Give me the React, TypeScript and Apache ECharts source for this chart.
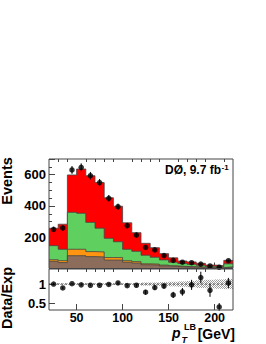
import React, { useEffect, useRef } from "react";
import * as echarts from "echarts";

const binEdges = [20, 30, 40, 50, 60, 70, 80, 90, 100, 110, 120, 130, 140, 150, 160, 170, 180, 190, 200, 210, 220];
const binCenters = [25, 35, 45, 55, 65, 75, 85, 95, 105, 115, 125, 135, 145, 155, 165, 175, 185, 195, 205, 215];

// stacked expectation components (events per bin)
const brownBkg = [46, 38, 82, 82, 76, 74, 54, 54, 40, 35, 24, 22, 17, 13, 10, 9, 7, 5, 4, 8];
const orangeBkg = [10, 12, 41, 41, 32, 32, 16, 16, 10, 9, 6, 6, 5, 4, 3, 2, 2, 2, 2, 2];
const greenBkg = [90, 73, 236, 230, 187, 152, 123, 101, 73, 66, 55, 44, 33, 23, 19, 16, 12, 7, 6, 20];
const redSig = [111, 160, 239, 283, 298, 291, 259, 227, 169, 119, 76, 61, 40, 28, 16, 15, 12, 8, 6, 22];

const dataVals = [250, 259, 630, 647, 593, 549, 449, 395, 274, 214, 135, 119, 83, 52, 40, 37, 28, 16, 8, 50];
const dataErr = [16, 16, 25, 25, 24, 23, 21, 20, 17, 15, 12, 11, 9, 7, 6, 6, 5, 4, 3, 7];

const ratioVals = [1.0, 0.9, 1.01, 0.98, 0.97, 0.97, 0.99, 1.03, 0.96, 0.97, 0.79, 0.91, 0.95, 0.72, 0.8, 0.98, 1.17, 0.84, 0.41, 1.03];
const ratioErr = [0.03, 0.03, 0.02, 0.02, 0.02, 0.02, 0.03, 0.03, 0.03, 0.04, 0.06, 0.06, 0.07, 0.08, 0.1, 0.13, 0.15, 0.17, 0.1, 0.13];
const systBand = [0.02, 0.02, 0.02, 0.02, 0.02, 0.02, 0.02, 0.02, 0.02, 0.02, 0.04, 0.04, 0.05, 0.06, 0.07, 0.08, 0.1, 0.11, 0.12, 0.13];

const xMajorTicks = [50, 100, 150, 200];
const xMinorTicks = [30, 40, 60, 70, 80, 90, 110, 120, 130, 140, 160, 170, 180, 190, 210];
const ratioTicks = [0.5, 1];

const FONT = '"Liberation Sans", Arial, Helvetica, sans-serif';
const AX = "#444";

function cumulative(...parts: number[][]) {
  return parts[0].map((_, i) => parts.reduce((s, p) => s + p[i], 0));
}

function stepData(vals: number[]) {
  return binEdges.map((e, i) => [e, vals[Math.min(i, vals.length - 1)]]);
}

export default function App() {
  const ref = useRef<HTMLDivElement>(null);
  useEffect(() => {
    if (!ref.current) return;
    const chart = echarts.init(ref.current, undefined, { renderer: "svg" });

    const layer = (name: string, vals: number[], color: string, z: number) => ({
      name,
      type: "line",
      xAxisIndex: 0,
      yAxisIndex: 0,
      step: "end",
      symbol: "none",
      data: stepData(vals),
      lineStyle: { color: "#444", width: 0.8 },
      areaStyle: { color, opacity: 1, origin: "start" },
      z,
    });

    const errBar = (xi: number, yi: number, vals: number[], errs: number[]) => ({
      type: "custom",
      xAxisIndex: xi,
      yAxisIndex: yi,
      data: binCenters.map((c, i) => [c, vals[i] - errs[i], vals[i] + errs[i]]),
      renderItem: (params: any, api: any) => {
        const p0 = api.coord([api.value(0), api.value(1)]);
        const p1 = api.coord([api.value(0), api.value(2)]);
        return {
          type: "line",
          shape: { x1: p0[0], y1: p0[1], x2: p1[0], y2: p1[1] },
          style: { stroke: "#000", lineWidth: 1 },
        };
      },
      z: 10,
    });

    const hatch = {
      type: "custom",
      xAxisIndex: 2,
      yAxisIndex: 1,
      data: binCenters.map((c, i) => [binEdges[i], binEdges[i + 1], 1 - systBand[i], 1 + systBand[i]]),
      renderItem: (params: any, api: any) => {
        const a = api.coord([api.value(0), api.value(3)]);
        const b = api.coord([api.value(1), api.value(2)]);
        const x0 = a[0], y0 = a[1], x1 = b[0], y1 = b[1];
        const children: any[] = [];
        const step = 2;
        const cStart = Math.floor((y0 - x1) / step) * step;
        for (let c = cStart; c <= y1 - x0; c += step) {
          const xs = Math.max(x0, y0 - c);
          const xe = Math.min(x1, y1 - c);
          if (xe > xs) {
            children.push({
              type: "line",
              shape: { x1: xs, y1: xs + c, x2: xe, y2: xe + c },
              style: { stroke: "#555", lineWidth: 0.6 },
            });
          }
        }
        return { type: "group", children };
      },
      z: 1,
    };

    const topRed = cumulative(brownBkg, orangeBkg, greenBkg, redSig);
    const topGreen = cumulative(brownBkg, orangeBkg, greenBkg);
    const topOrange = cumulative(brownBkg, orangeBkg);
    const topBrown = cumulative(brownBkg);

    const option: any = {
      animation: false,
      grid: [
        { left: 49, top: 159, width: 184, height: 109.5, show: true, borderColor: AX, borderWidth: 1, backgroundColor: "transparent", containLabel: false, outerBoundsMode: "none", z: 20 },
        { left: 49, top: 269, width: 184, height: 41, show: true, borderColor: AX, borderWidth: 1, backgroundColor: "transparent", containLabel: false, outerBoundsMode: "none", z: 20 },
      ],
      xAxis: [
        {
          type: "value", gridIndex: 0, min: 20, max: 220,
          axisLine: { show: false }, splitLine: { show: false },
          axisTick: { show: true, inside: true, length: 6, customValues: xMajorTicks, lineStyle: { color: AX } },
          axisLabel: { show: false },
        },
        {
          type: "value", gridIndex: 0, min: 20, max: 220,
          axisLine: { show: false }, splitLine: { show: false },
          axisTick: { show: true, inside: true, length: 3, customValues: xMinorTicks, lineStyle: { color: AX } },
          axisLabel: { show: false },
        },
        {
          type: "value", gridIndex: 1, min: 20, max: 220,
          axisLine: { show: false }, splitLine: { show: false },
          axisTick: { show: true, inside: true, length: 6, customValues: xMajorTicks, lineStyle: { color: AX } },
          axisLabel: { show: true, customValues: xMajorTicks, margin: 2, color: "#000", fontFamily: FONT, fontWeight: "bold", fontSize: 12.5, lineHeight: 11 },
        },
        {
          type: "value", gridIndex: 1, min: 20, max: 220,
          axisLine: { show: false }, splitLine: { show: false },
          axisTick: { show: true, inside: true, length: 3, customValues: xMinorTicks, lineStyle: { color: AX } },
          axisLabel: { show: false },
        },
      ],
      yAxis: [
        {
          type: "value", gridIndex: 0, min: 0, max: 700, interval: 200,
          axisLine: { show: false }, splitLine: { show: false },
          axisTick: { show: true, inside: true, length: 6, lineStyle: { color: AX } },
          minorTick: { show: true, splitNumber: 4, length: 3, lineStyle: { color: AX } },
          axisLabel: {
            margin: 3, color: "#000", fontFamily: FONT, fontWeight: "bold", fontSize: 13,
            showMaxLabel: false,
            formatter: (v: number) => (v === 0 || v === 700 ? "" : String(v)),
          },
        },
        {
          type: "value", gridIndex: 1, min: 0.33, max: 1.39,
          axisLine: { show: false }, splitLine: { show: false },
          axisTick: { show: true, inside: true, length: 6, customValues: ratioTicks, lineStyle: { color: AX } },
          axisLabel: { show: true, customValues: ratioTicks, margin: 3, color: "#000", fontFamily: FONT, fontWeight: "bold", fontSize: 13 },
        },
      ],
      series: [
        layer("signal", topRed, "#ff0000", 2),
        layer("green", topGreen, "#5fd05f", 3),
        layer("orange", topOrange, "#ff9410", 4),
        layer("other", topBrown, "#8c6c5a", 5),
        errBar(0, 0, dataVals, dataErr),
        {
          type: "scatter", xAxisIndex: 0, yAxisIndex: 0, symbol: "circle", symbolSize: 5.5,
          itemStyle: { color: "#000" }, data: binCenters.map((c, i) => [c, dataVals[i]]), z: 11,
        },
        hatch,
        {
          type: "line", xAxisIndex: 2, yAxisIndex: 1, symbol: "none",
          data: [[binEdges[0], 1], [binEdges[binEdges.length - 1], 1]],
          lineStyle: { color: "#333", width: 0.8, type: [2, 2] }, z: 2,
        },
        errBar(2, 1, ratioVals, ratioErr),
        {
          type: "scatter", xAxisIndex: 2, yAxisIndex: 1, symbol: "circle", symbolSize: 5.5,
          itemStyle: { color: "#000" }, data: binCenters.map((c, i) => [c, ratioVals[i]]), z: 11,
        },
      ],
      graphic: [
        {
          type: "text", x: 7, y: 181, rotation: Math.PI / 2,
          style: { text: "Events", x: 0, y: 0, textAlign: "center", textVerticalAlign: "middle", font: `bold 14.5px ${FONT}`, fill: "#000" },
        },
        {
          type: "text", x: 7, y: 298, rotation: Math.PI / 2,
          style: { text: "Data/Exp", x: 0, y: 0, textAlign: "center", textVerticalAlign: "middle", font: `bold 14.5px ${FONT}`, fill: "#000" },
        },
        {
          type: "text", x: 221, y: 176,
          style: { text: "DØ, 9.7 fb", x: 0, y: 0, textAlign: "right", textVerticalAlign: "bottom", font: `bold 12px ${FONT}`, fill: "#000" },
        },
        {
          type: "text", x: 221.5, y: 171,
          style: { text: "-1", x: 0, y: 0, textAlign: "left", textVerticalAlign: "bottom", font: `bold 8px ${FONT}`, fill: "#000" },
        },
        {
          type: "text", x: 172, y: 338,
          style: { text: "p", x: 0, y: 0, textAlign: "left", textVerticalAlign: "bottom", font: `italic bold 14px ${FONT}`, lineHeight: 11, fill: "#000" },
        },
        {
          type: "text", x: 181.5, y: 344,
          style: { text: "T", x: 0, y: 0, textAlign: "left", textVerticalAlign: "bottom", font: `italic bold 9px ${FONT}`, fill: "#000" },
        },
        {
          type: "text", x: 184, y: 331,
          style: { text: "LB", x: 0, y: 0, textAlign: "left", textVerticalAlign: "bottom", font: `bold 9px ${FONT}`, fill: "#000" },
        },
        {
          type: "text", x: 235, y: 340.5,
          style: { text: "[GeV]", x: 0, y: 0, textAlign: "right", textVerticalAlign: "bottom", font: `bold 14px ${FONT}`, fill: "#000" },
        },
      ],
    };
    chart.setOption(option);
    return () => chart.dispose();
  }, []);
  return <div ref={ref} style={{ position: "absolute", left: 0, top: 0, width: 266, height: 344 }} />;
}
